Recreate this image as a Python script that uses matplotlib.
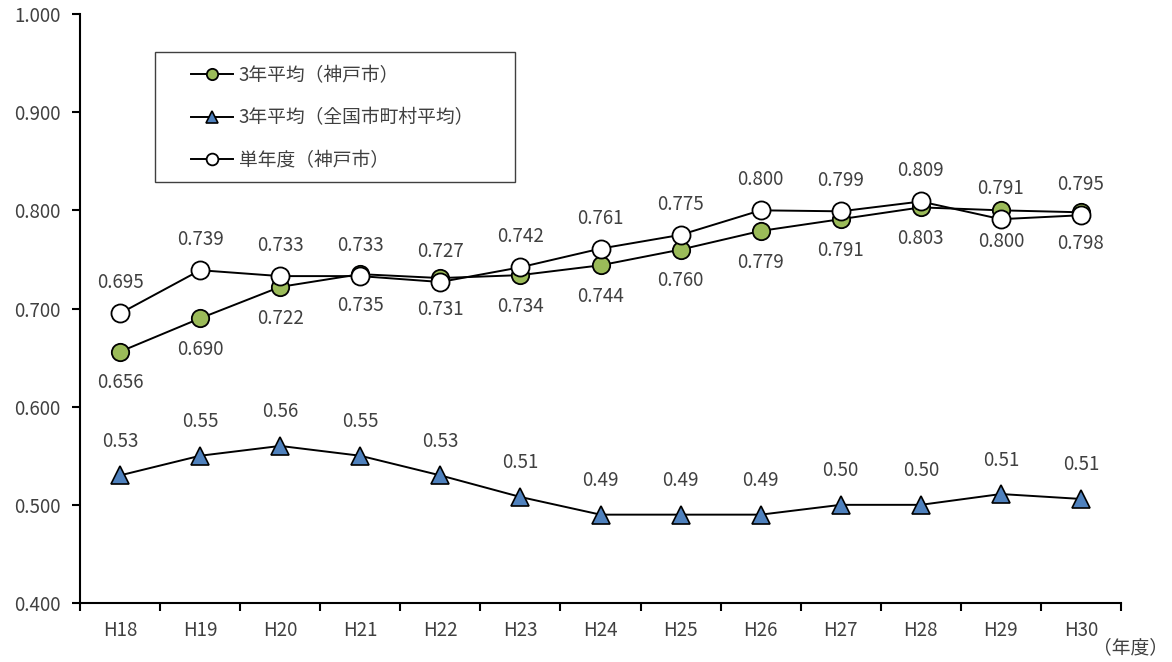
import matplotlib
matplotlib.use("Agg")
import matplotlib.pyplot as plt
from matplotlib.patches import Rectangle
from matplotlib.ticker import FixedLocator, NullFormatter, FuncFormatter

plt.rcParams['font.family'] = ['Noto Sans CJK JP', 'DejaVu Sans']

years = ["H18", "H19", "H20", "H21", "H22", "H23", "H24", "H25", "H26", "H27", "H28", "H29", "H30"]
kobe_3yr = [0.656, 0.690, 0.722, 0.735, 0.731, 0.734, 0.744, 0.760, 0.779, 0.791, 0.803, 0.800, 0.798]
national_3yr = [0.53, 0.55, 0.56, 0.55, 0.53, 0.508, 0.49, 0.49, 0.49, 0.50, 0.50, 0.511, 0.506]
kobe_single = [0.695, 0.739, 0.733, 0.733, 0.727, 0.742, 0.761, 0.775, 0.800, 0.799, 0.809, 0.791, 0.795]

names = ["3年平均（神戸市）", "3年平均（全国市町村平均）", "単年度（神戸市）"]
unit_label = "（年度）"

txt = "#404040"
W, H = 1172, 662
fig = plt.figure(figsize=(W / 100, H / 100), dpi=100)
ax = fig.add_axes([80/W, 1-603/H, (1121-80)/W, (603-14)/H])

x = list(range(len(years)))
l1, = ax.plot(x, kobe_3yr, color="black", lw=1.4, marker="o", ms=12.5,
              mfc="#9BBB59", mec="black", mew=1.3, zorder=3)
l2, = ax.plot(x, national_3yr, color="black", lw=1.4, marker="^", ms=13,
              mfc="#4F81BD", mec="black", mew=1.2, zorder=3)
l3, = ax.plot(x, kobe_single, color="black", lw=1.4, marker="o", ms=13,
              mfc="white", mec="black", mew=1.3, zorder=4)

fs = 13.5
for xi, v in zip(x, kobe_3yr):
    ax.annotate(f"{v:.3f}", (xi, v), xytext=(0, -22.5), textcoords="offset points",
                ha="center", va="center", fontsize=fs, color=txt)
for xi, v in zip(x, kobe_single):
    ax.annotate(f"{v:.3f}", (xi, v), xytext=(0, 22), textcoords="offset points",
                ha="center", va="center", fontsize=fs, color=txt)
for xi, v in zip(x, national_3yr):
    ax.annotate(f"{v:.2f}", (xi, v), xytext=(0, 24.5), textcoords="offset points",
                ha="center", va="center", fontsize=fs, color=txt)

ax.set_xlim(-0.5, len(years) - 0.5)
ax.set_ylim(0.4, 1.0)
ax.set_yticks([0.4, 0.5, 0.6, 0.7, 0.8, 0.9, 1.0])
ax.yaxis.set_major_formatter(FuncFormatter(lambda v, p: f"{v:.3f}"))
ax.set_xticks(x)
ax.set_xticklabels(years)
ax.xaxis.set_minor_locator(FixedLocator([i - 0.5 for i in range(len(years) + 1)]))
ax.xaxis.set_minor_formatter(NullFormatter())
ax.tick_params(axis="x", which="major", length=0, pad=12, labelsize=fs, labelcolor=txt)
ax.tick_params(axis="x", which="minor", length=6, width=1.5, direction="out", color="black")
ax.tick_params(axis="y", which="major", length=6, width=1.5, direction="out", pad=8,
               labelsize=fs, labelcolor=txt)
for s in ["top", "right"]:
    ax.spines[s].set_visible(False)
for s in ["left", "bottom"]:
    ax.spines[s].set_linewidth(1.5)
    ax.spines[s].set_color("black")

# legend frame
fig.patches.append(Rectangle((155/W, 1-182/H), 360/W, 130/H, transform=fig.transFigure,
                             fill=True, facecolor="white", edgecolor="#404040", lw=1.0, zorder=5))
leg = fig.legend([l1, l2, l3], names, loc="upper left",
                 bbox_to_anchor=(191/W, 1-65/H), fontsize=fs,
                 frameon=False, labelcolor=txt,
                 handlelength=2.25, borderpad=0, labelspacing=1.14, handletextpad=0.3,
                 borderaxespad=0, markerscale=0.65)
leg.set_zorder(6)
fig.text(1168/W, 1-648/H, unit_label, ha="right", va="center", fontsize=fs, color=txt)

fig.savefig("out.png", dpi=100)
